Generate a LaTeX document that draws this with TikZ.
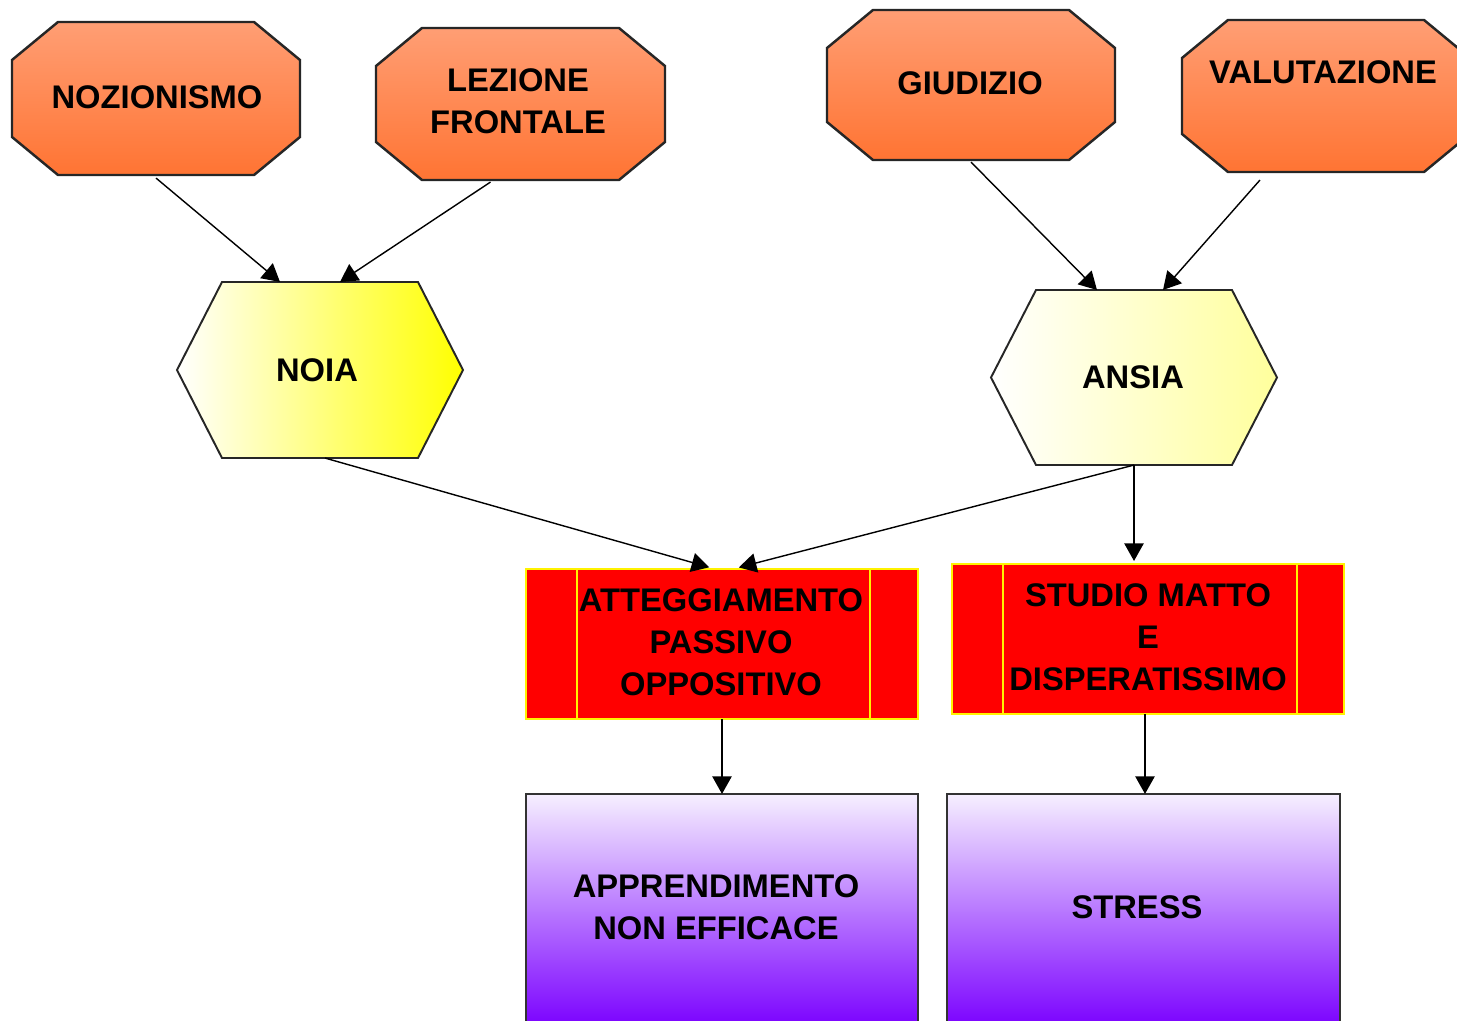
\documentclass[tikz,border=0pt]{standalone}
\usepackage{fontspec}
\setmainfont{Liberation Sans}
\usetikzlibrary{arrows.meta,calc}
\definecolor{oTop}{HTML}{FF9E74}
\definecolor{oBot}{HTML}{FF7433}
\definecolor{pTop}{HTML}{F6EFFF}
\definecolor{pBot}{HTML}{7A00FF}
\definecolor{aRight}{HTML}{FFFF9C}
% octagon: x1 y1 x2 y2 cutx cuty
\newcommand\octpoly[6]{%
  \path[octa] ({#1+#5},#2) -- ({#3-#5},#2) -- (#3,{#2+#6}) -- (#3,{#4-#6}) -- ({#3-#5},#4) -- ({#1+#5},#4) -- (#1,{#4-#6}) -- (#1,{#2+#6}) -- cycle;}
% hexagon: x1 y1 x2 y2 inset
\newcommand\hexpoly[6]{%
  \path[hexa,#6] ({#1+#5},#2) -- ({#3-#5},#2) -- (#3,{(#2+#4)/2}) -- ({#3-#5},#4) -- ({#1+#5},#4) -- (#1,{(#2+#4)/2}) -- cycle;}
\tikzset{
  octa/.style={draw=black!85, line width=0.7pt, top color=oTop, bottom color=oBot},
  hexa/.style={draw=black!85, line width=0.55pt},
  anch/.style={inner sep=0pt, outer sep=0pt, draw=none},
  lbl/.style={inner sep=0pt, align=center, font=\fontsize{9.3}{12}\selectfont\bfseries},
  redbox/.style={anch, fill=red, draw=yellow, line width=0.5pt},
  purbox/.style={anch, top color=pTop, bottom color=pBot, draw=black!80, line width=0.7pt},
  arr/.style={-{Triangle[length=5pt,width=5.5pt]}, line width=0.4pt, black}
}
\begin{document}
\begin{tikzpicture}[x=0.01cm,y=-0.01cm]
\clip (0,0) rectangle (1457,1021);
\fill[white] (0,0) rectangle (1457,1021);
% octagons
\octpoly{12}{22}{300}{175}{46}{38}
\node[anch, minimum width=2.88cm, minimum height=1.53cm] (noz) at (156,98.5) {};
\octpoly{376}{28}{665}{180}{46}{38}
\node[anch, minimum width=2.89cm, minimum height=1.52cm] (lez) at (520.5,104) {};
\octpoly{827}{10}{1115}{160}{46}{38}
\node[anch, minimum width=2.88cm, minimum height=1.50cm] (giu) at (971,85) {};
\octpoly{1182}{20}{1470}{172}{46}{38}
\node[anch, minimum width=2.88cm, minimum height=1.52cm] (val) at (1326,96) {};
% hexagons
\hexpoly{177}{282}{463}{458}{45}{left color=white, right color=yellow, middle color=yellow!50!white}
\node[anch, minimum width=2.86cm, minimum height=1.76cm] (noia) at (320,370) {};
\hexpoly{991}{290}{1277}{465}{45}{left color=white, right color=aRight}
\node[anch, minimum width=2.86cm, minimum height=1.75cm] (ansia) at (1134,377.5) {};
% red boxes
\node[redbox, minimum width=3.92cm, minimum height=1.50cm] (att) at (722,644) {};
\draw[yellow, line width=0.5pt] (577,569) -- (577,719) (870,569) -- (870,719);
\node[redbox, minimum width=3.92cm, minimum height=1.50cm] (stu) at (1148,639) {};
\draw[yellow, line width=0.5pt] (1003,564) -- (1003,714) (1297,564) -- (1297,714);
% purple boxes
\node[purbox, minimum width=3.92cm, minimum height=2.34cm] (app) at (722,911) {};
\node[purbox, minimum width=3.93cm, minimum height=2.34cm] (str) at (1143.5,911) {};
% labels
\node[lbl] (nozT) at (157,97) {NOZIONISMO};
\node[lbl] (lezT) at (518,101) {LEZIONE\\FRONTALE};
\node[lbl] (giuT) at (970,83) {GIUDIZIO};
\node[lbl] (valT) at (1323,72) {VALUTAZIONE};
\node[lbl] (noiaT) at (317,370) {NOIA};
\node[lbl] (ansiaT) at (1133,377) {ANSIA};
\node[lbl] (attT) at (721,642) {ATTEGGIAMENTO\\PASSIVO\\OPPOSITIVO};
\node[lbl] (stuT) at (1148,637) {STUDIO MATTO\\E\\DISPERATISSIMO};
\node[lbl] (appT) at (716,907) {APPRENDIMENTO\\NON EFFICACE};
\node[lbl] (strT) at (1137,907) {STRESS};
% connectors
\draw[arr] ([yshift=-0.03cm]noz.south) -- ([xshift=-0.40cm]noia.north);
\draw[arr] ([xshift=-0.30cm,yshift=-0.02cm]lez.south) -- ([xshift=0.20cm]noia.north);
\draw[arr] ([yshift=-0.02cm]giu.south) -- ([xshift=-0.37cm]ansia.north);
\draw[arr] ([xshift=-0.66cm,yshift=-0.08cm]val.south) -- ([xshift=0.29cm]ansia.north);
\draw[arr, shorten >=0.06cm] ([xshift=0.05cm]noia.south) -- ([xshift=-0.07cm]att.north);
\draw[arr, shorten >=0.06cm] (ansia.south) -- ([xshift=0.11cm]att.north);
\draw[arr, shorten >=0.03cm] (ansia.south) -- (ansia.south |- stu.north);
\draw[arr] (att.south) -- (app.north);
\draw[arr] ([xshift=-0.03cm]stu.south) -- ([xshift=-0.03cm]stu.south |- str.north);
\end{tikzpicture}
\end{document}
